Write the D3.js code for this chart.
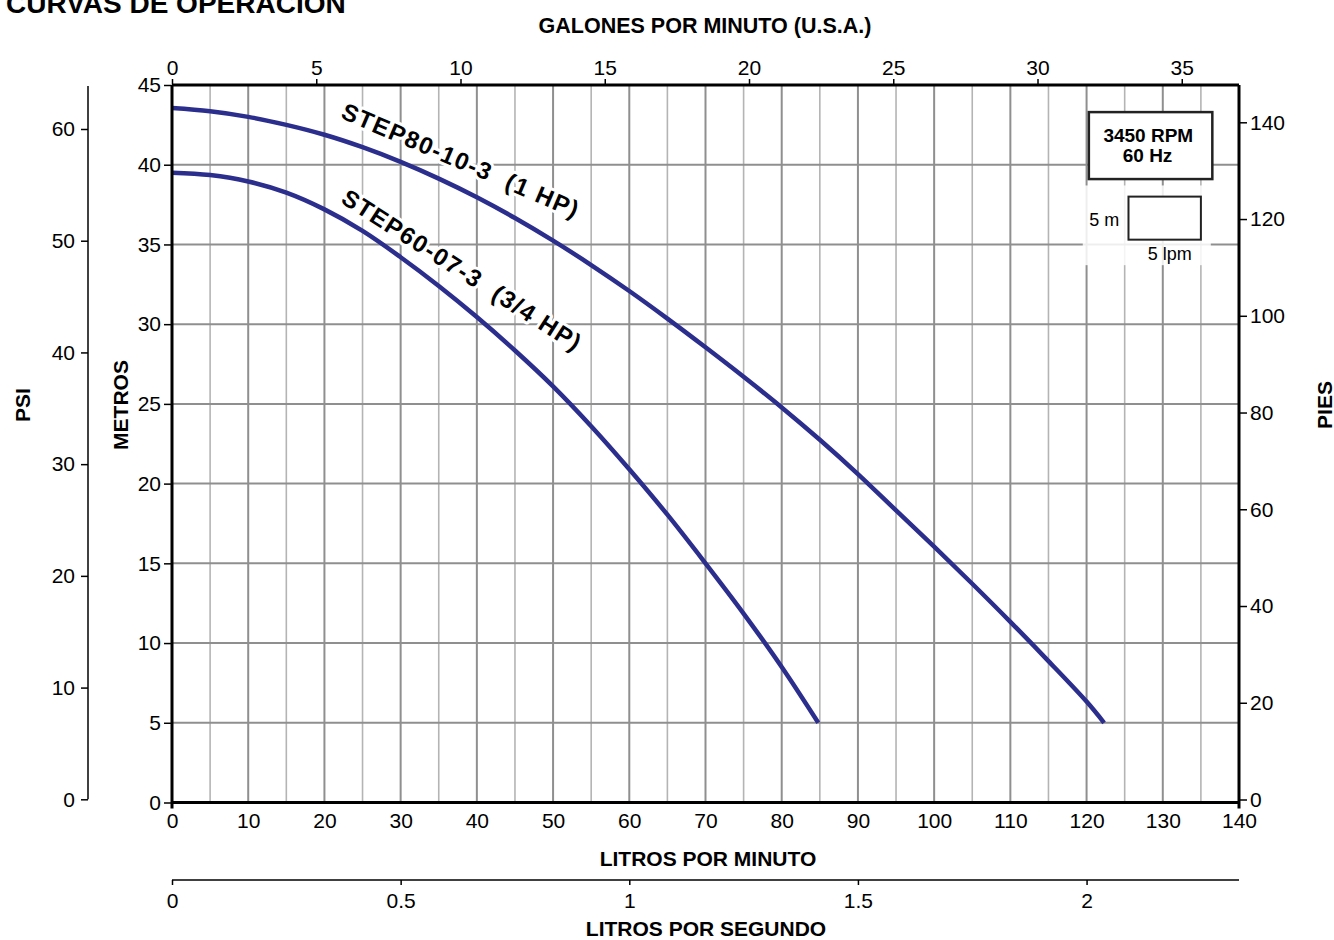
<!DOCTYPE html>
<html>
<head>
<meta charset="utf-8">
<script src="https://cdn.jsdelivr.net/npm/d3@7/dist/d3.min.js"></script>
<style>
  html, body { margin: 0; padding: 0; background: #fff; }
  svg { display: block; font-family: "Liberation Sans", Arial, sans-serif; }
</style>
</head>
<body>
<svg id="chart" width="1334" height="940"></svg>
<script>
// ---------- DATA ----------
const flowLpm80 = [0, 5, 10, 15, 20, 25, 30, 35, 40, 45, 50, 55, 60, 65, 70, 75, 80, 85, 90, 95, 100, 105, 110, 115, 120, 122.3];
const headM80   = [43.55, 43.35, 43.0, 42.5, 41.88, 41.1, 40.18, 39.13, 37.96, 36.66, 35.24, 33.71, 32.08, 30.35, 28.55, 26.7, 24.78, 22.75, 20.6, 18.32, 16.05, 13.72, 11.33, 8.87, 6.33, 5.0];
const flowLpm60 = [0, 5, 10, 15, 20, 25, 30, 35, 40, 45, 50, 55, 60, 65, 70, 75, 80, 84.8];
const headM60   = [39.5, 39.35, 38.95, 38.25, 37.2, 35.85, 34.2, 32.4, 30.45, 28.35, 26.1, 23.6, 20.9, 18.05, 15.0, 11.85, 8.5, 5.0];
const seriesNames = ["STEP80-10-3  (1 HP)", "STEP60-07-3  (3/4 HP)"];

const lpmTicks = [0, 10, 20, 30, 40, 50, 60, 70, 80, 90, 100, 110, 120, 130, 140];
const metrosTicks = [0, 5, 10, 15, 20, 25, 30, 35, 40, 45];
const galTicks = [0, 5, 10, 15, 20, 25, 30, 35];
const psiTicks = [0, 10, 20, 30, 40, 50, 60];
const piesTicks = [0, 20, 40, 60, 80, 100, 120, 140];
const lpsTicks = [0, 0.5, 1, 1.5, 2];

const titleText = "CURVAS DE OPERACIÓN";
const infoLines = ["3450 RPM", "60 Hz"];

// ---------- SCALES ----------
const svg = d3.select("#chart");
const X0 = 172, X1 = 1239, Y0 = 802.5, Y1 = 85;
const x = d3.scaleLinear().domain([0, 140]).range([X0, X1]);
const y = d3.scaleLinear().domain([0, 45]).range([Y0, Y1]);
const LPG = 3.78541;
const xGal = d3.scaleLinear().domain([0, 140 / LPG]).range([X0, X1]);
const xLps = d3.scaleLinear().domain([0, 140 / 60]).range([X0, X1]);
const yPsi = d3.scaleLinear().domain([0, 60]).range([799.3, 129]);
const yPies = d3.scaleLinear().domain([0, 140]).range([799.5, 122.3]);

const FS = 21;
const gridDark = "#8f8f8f", gridLight = "#b4b4b4";
const curveColor = "#2b2e8c";

// ---------- GRID ----------
const grid = svg.append("g");
d3.range(5, 140, 5).forEach(v => {
  grid.append("line")
    .attr("x1", x(v)).attr("x2", x(v)).attr("y1", Y1).attr("y2", Y0)
    .attr("stroke", v % 10 === 0 ? gridDark : gridLight)
    .attr("stroke-width", v % 10 === 0 ? 2 : 1.6);
});
d3.range(5, 45, 5).forEach(v => {
  grid.append("line")
    .attr("x1", X0).attr("x2", X1).attr("y1", y(v)).attr("y2", y(v))
    .attr("stroke", gridDark).attr("stroke-width", 2);
});

// ---------- INFO BOXES ----------
svg.append("rect")
  .attr("x", x(119.5)).attr("y", y(38.7)).attr("width", x(136.3) - x(119.5)).attr("height", y(33.7) - y(38.7))
  .attr("fill", "#fff").attr("opacity", 0.85);
svg.append("rect")
  .attr("x", x(120.3)).attr("y", y(43.3)).attr("width", x(136.5) - x(120.3)).attr("height", y(39.1) - y(43.3))
  .attr("fill", "#fff").attr("stroke", "#222").attr("stroke-width", 2.5);
svg.append("text").attr("x", x(128.1)).attr("y", y(41.45)).attr("text-anchor", "middle")
  .attr("font-size", 19).attr("font-weight", "bold").text(infoLines[0]);
svg.append("text").attr("x", x(128.0)).attr("y", y(40.15)).attr("text-anchor", "middle")
  .attr("font-size", 19).attr("font-weight", "bold").text(infoLines[1]);
svg.append("rect")
  .attr("x", x(125.5)).attr("y", y(38.0)).attr("width", x(135.0) - x(125.5)).attr("height", y(35.3) - y(38.0))
  .attr("fill", "#fff").attr("stroke", "#222").attr("stroke-width", 2);
svg.append("text").attr("x", x(124.3)).attr("y", y(36.15)).attr("text-anchor", "end")
  .attr("font-size", 18).text("5 m");
svg.append("text").attr("x", x(130.9)).attr("y", y(34.05)).attr("text-anchor", "middle")
  .attr("font-size", 18).text("5 lpm");

// ---------- CURVES ----------
const line = d3.line().x(d => x(d[0])).y(d => y(d[1])).curve(d3.curveCatmullRom.alpha(0.5));
const data80 = flowLpm80.map((f, i) => [f, headM80[i]]);
const data60 = flowLpm60.map((f, i) => [f, headM60[i]]);
[data80, data60].forEach(d => {
  svg.append("path").datum(d).attr("d", line)
    .attr("fill", "none").attr("stroke", curveColor).attr("stroke-width", 4.5);
});

// curve labels
function curveLabel(txt, fx, hm, angle, ls) {
  svg.append("text")
    .attr("transform", `translate(${x(fx)},${y(hm)}) rotate(${angle})`)
    .attr("font-size", 24).attr("font-weight", "bold").attr("letter-spacing", ls)
    .attr("fill", "#000").attr("stroke", "#fff").attr("stroke-width", 6)
    .attr("paint-order", "stroke").attr("stroke-linejoin", "round")
    .attr("xml:space", "preserve").style("white-space", "pre")
    .text(txt);
}
curveLabel(seriesNames[0], 22.0, 42.95, 23.2, 1.5);
curveLabel(seriesNames[1], 22.0, 37.65, 32.5, 1.5);

// ---------- AXES ----------
function styleAxis(g) {
  g.select(".domain").remove();
  g.selectAll(".tick line").attr("stroke", "#000").attr("stroke-width", 1.5);
  g.selectAll(".tick text").attr("font-size", FS).attr("fill", "#000")
    .attr("font-family", "'Liberation Sans', Arial, sans-serif");
}

// frame lines
svg.append("line").attr("x1", X0).attr("x2", X1).attr("y1", Y1).attr("y2", Y1).attr("stroke", "#000").attr("stroke-width", 3);
svg.append("line").attr("x1", X0).attr("x2", X1).attr("y1", Y0).attr("y2", Y0).attr("stroke", "#000").attr("stroke-width", 3);
svg.append("line").attr("x1", X0).attr("x2", X0).attr("y1", Y1).attr("y2", Y0 + 6).attr("stroke", "#000").attr("stroke-width", 3);
svg.append("line").attr("x1", X1).attr("x2", X1).attr("y1", Y1).attr("y2", Y0 + 6).attr("stroke", "#000").attr("stroke-width", 3);

// Metros (left)
const gM = svg.append("g").attr("transform", `translate(${X0 - 1},0)`)
  .call(d3.axisLeft(y).tickValues(metrosTicks).tickSize(7).tickPadding(3).tickFormat(d3.format("d")));
styleAxis(gM);

// Pies (right)
const gP = svg.append("g").attr("transform", `translate(${X1 + 1},0)`)
  .call(d3.axisRight(yPies).tickValues(piesTicks).tickSize(7).tickPadding(3).tickFormat(d3.format("d")));
styleAxis(gP);

// PSI (far left)
const PSI_X = 88;
svg.append("line").attr("x1", PSI_X).attr("x2", PSI_X).attr("y1", 86).attr("y2", yPsi(0))
  .attr("stroke", "#000").attr("stroke-width", 1.5);
const gS = svg.append("g").attr("transform", `translate(${PSI_X},0)`)
  .call(d3.axisLeft(yPsi).tickValues(psiTicks).tickSize(7).tickPadding(6).tickFormat(d3.format("d")));
styleAxis(gS);

// LPM (bottom)
const gB = svg.append("g").attr("transform", `translate(0,${Y0})`)
  .call(d3.axisBottom(x).tickValues(lpmTicks).tickSize(0).tickPadding(11).tickFormat(d3.format("d")));
styleAxis(gB);

// Gallons (top)
const gT = svg.append("g").attr("transform", `translate(0,${Y1})`)
  .call(d3.axisTop(xGal).tickValues(galTicks).tickSize(6).tickPadding(4).tickFormat(d3.format("d")));
styleAxis(gT);

// LPS (lower)
const LPS_Y = 880;
svg.append("line").attr("x1", X0).attr("x2", X1).attr("y1", LPS_Y).attr("y2", LPS_Y)
  .attr("stroke", "#000").attr("stroke-width", 1.5);
const gL = svg.append("g").attr("transform", `translate(0,${LPS_Y})`)
  .call(d3.axisBottom(xLps).tickValues(lpsTicks).tickSize(5).tickPadding(8).tickFormat(d => String(d)));
styleAxis(gL);

// ---------- TITLES ----------
function boldText(txt, tx, ty, rot, size) {
  svg.append("text")
    .attr("transform", `translate(${tx},${ty}) rotate(${rot || 0})`)
    .attr("text-anchor", "middle").attr("dominant-baseline", "central")
    .attr("font-size", size || 21).attr("font-weight", "bold").text(txt);
}
boldText("GALONES POR MINUTO (U.S.A.)", 705, 26, 0, 21.5);
boldText("LITROS POR MINUTO", 708, 858);
boldText("LITROS POR SEGUNDO", 706, 928);
boldText("PSI", 22, 405, -90);
boldText("METROS", 120, 405, -90);
boldText("PIES", 1324, 405, -90);

svg.append("text").attr("x", 6).attr("y", 13).attr("font-size", 28).attr("font-weight", "bold").text(titleText);
</script>
</body>
</html>
